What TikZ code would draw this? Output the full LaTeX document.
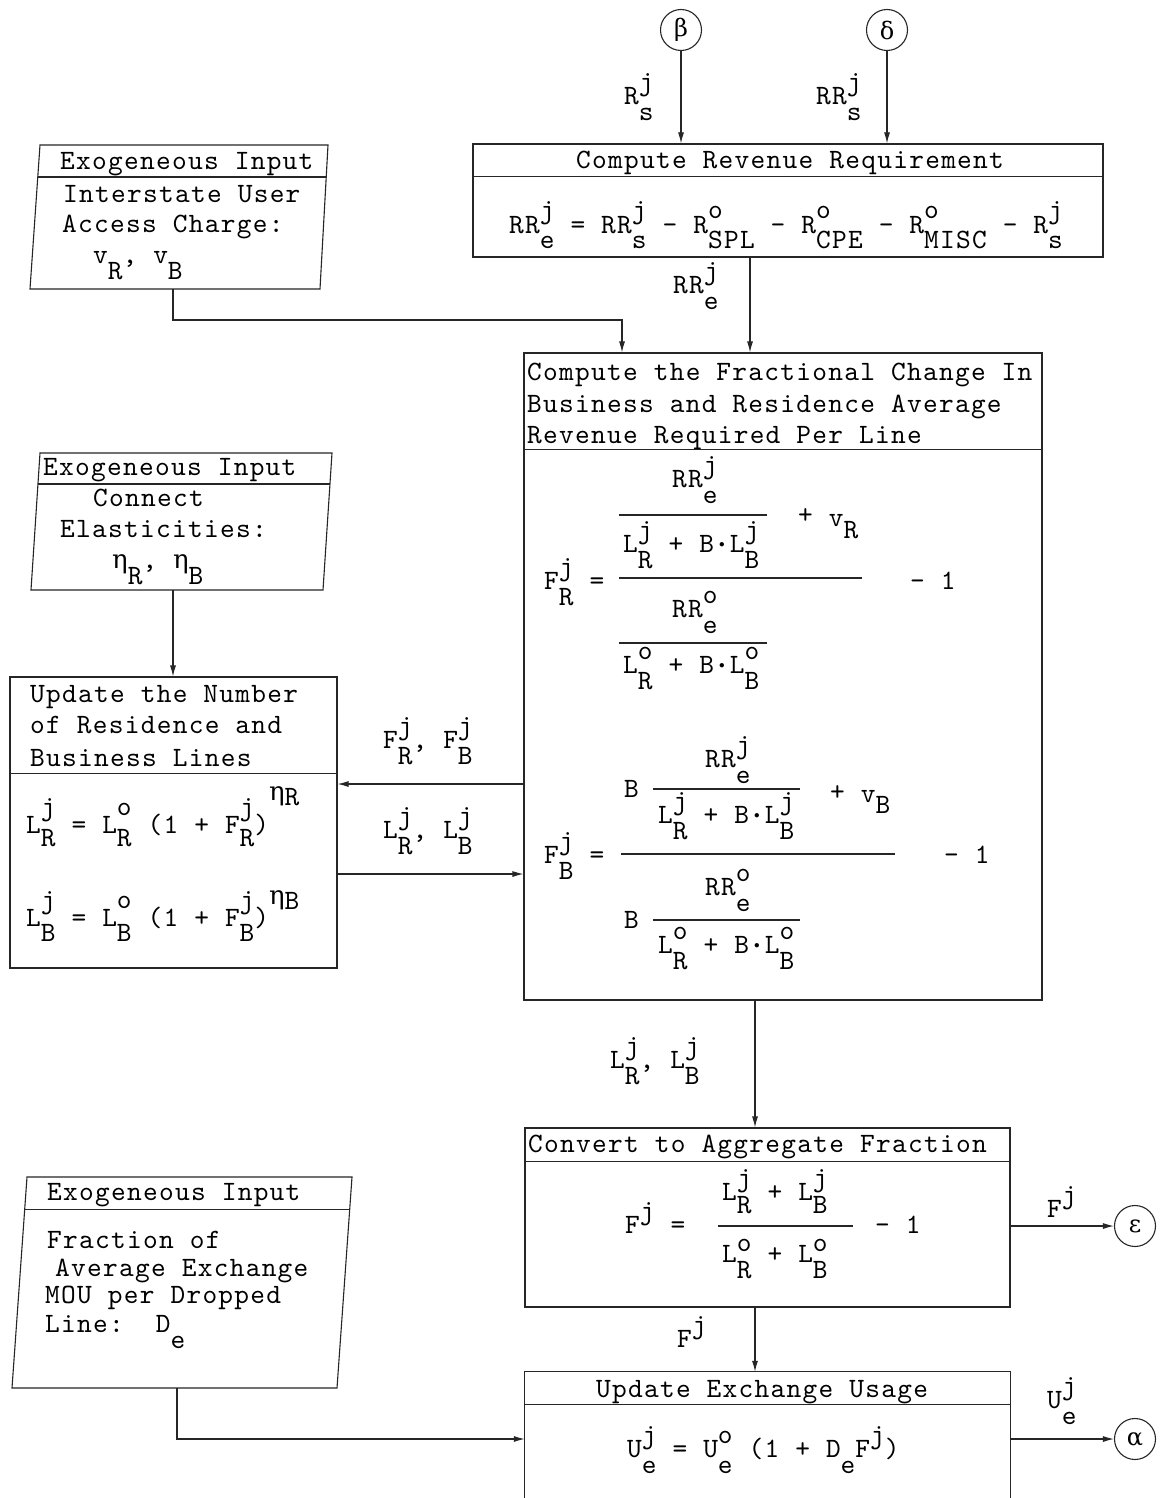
\documentclass[tikz,border=0pt]{standalone}
\usepackage{fontspec}
\usepackage{graphicx}
\newfontfamily\tw{lmmono10-regular.otf}[LetterSpace=4.6]
\newfontfamily\grk{DejaVu Serif}
\usetikzlibrary{arrows.meta,calc}
\newdimen\dnoff \dnoff=16pt
\newdimen\upoff \upoff=14pt
\newcommand\dn[1]{\raisebox{-\dnoff}{#1}}
\newcommand\up[1]{\raisebox{\upoff}{#1}}
\newcommand\ud[2]{\raisebox{-\dnoff}{\rlap{\raisebox{\dimexpr\dnoff+\upoff\relax}{#1}}#2}}
\newcommand\bdot{\makebox[16pt]{\raisebox{5pt}{\scalebox{0.45}{$\bullet$}}}}
\newcommand\eeta{{\grk\fontsize{26}{30}\selectfont η}}
\tikzset{
 ln/.style={line width=1.1pt, draw=black!85},
 arr/.style={ln, -{Latex[length=11pt,width=6pt]}},
 box/.style={ln, rectangle, inner sep=0pt},
 txt/.style={font=\tw\fontsize{28}{32}\selectfont, inner sep=0pt, anchor=base west},
 ctxt/.style={txt, anchor=base},
 circ/.style={ln, circle, minimum size=41pt, inner sep=0pt, font=\grk\fontsize{24}{28}\selectfont},
}
\begin{document}
\begin{tikzpicture}[x=1pt,y=-1pt]
\useasboundingbox (0,0) rectangle (1164,1498);
\fill[white] (0,0) rectangle (1164,1498);

% connector circles
\node[circ] (beta) at (681,30) {β};
\node[circ] (delta) at (887,30) {δ};
\node[circ] (eps) at (1135,1226) {ε};
\node[circ] (alpha) at (1135,1439) {α};

% process boxes
\node[box, minimum width=630pt, minimum height=113pt] (rev) at (788,200.5) {};
\draw[ln] ([yshift=-33pt]rev.north west) -- ([yshift=-33pt]rev.north east);
\node[box, minimum width=518pt, minimum height=647pt] (frac) at (783,676.5) {};
\draw[ln] ([yshift=-97pt]frac.north west) -- ([yshift=-97pt]frac.north east);
\node[box, minimum width=327pt, minimum height=291pt] (upd) at (173.5,822.5) {};
\draw[ln] ([yshift=-97pt]upd.north west) -- ([yshift=-97pt]upd.north east);
\node[box, minimum width=485pt, minimum height=179pt] (conv) at (767.5,1217.5) {};
\draw[ln] ([yshift=-34pt]conv.north west) -- ([yshift=-34pt]conv.north east);
\node[minimum width=485pt, minimum height=134pt, inner sep=0pt] (use) at (767.5,1439) {};
\draw[ln] (use.south west) -- (use.north west) -- (use.north east) -- (use.south east);
\draw[ln] ([yshift=-33pt]use.north west) -- ([yshift=-33pt]use.north east);

% input parallelograms
\coordinate (e1tl) at (40,145); \coordinate (e1tr) at (328,145);
\coordinate (e1br) at (320,289); \coordinate (e1bl) at (30,289);
\draw[ln] (e1tl) -- (e1tr) -- (e1br) -- (e1bl) -- cycle;
\draw[ln] ($(e1tl)!0.222!(e1bl)$) -- ($(e1tr)!0.222!(e1br)$);
\coordinate (e2tl) at (40,453); \coordinate (e2tr) at (332,453);
\coordinate (e2br) at (323,590); \coordinate (e2bl) at (31,590);
\draw[ln] (e2tl) -- (e2tr) -- (e2br) -- (e2bl) -- cycle;
\draw[ln] ($(e2tl)!0.226!(e2bl)$) -- ($(e2tr)!0.226!(e2br)$);
\coordinate (e3tl) at (27,1177); \coordinate (e3tr) at (352,1177);
\coordinate (e3br) at (337,1388); \coordinate (e3bl) at (12,1388);
\draw[ln] (e3tl) -- (e3tr) -- (e3br) -- (e3bl) -- cycle;
\draw[ln] ($(e3tl)!0.156!(e3bl)$) -- ($(e3tr)!0.156!(e3br)$);

% connectors
\draw[arr] (beta) -- (beta |- rev.north);
\draw[arr] (delta) -- (delta |- rev.north);
\coordinate (xa) at (750,0);
\draw[arr] (rev.south -| xa) -- (frac.north -| xa);
\coordinate (e1out) at (173,289); \coordinate (e1turn) at (622,320);
\draw[arr] (e1out) |- (e1turn) -- (e1turn |- frac.north);
\coordinate (e2out) at (173,590);
\draw[arr] (e2out) -- (e2out |- upd.north);
\coordinate (ya) at (0,784); \coordinate (yb) at (0,874);
\draw[arr] (frac.west |- ya) -- (upd.east |- ya);
\draw[arr] (upd.east |- yb) -- (frac.west |- yb);
\coordinate (xb) at (755,0);
\draw[arr] (frac.south -| xb) -- (conv.north -| xb);
\draw[arr] (conv.south -| xb) -- (use.north -| xb);
\draw[arr] (conv.east |- eps) -- (eps);
\draw[arr] (use.east |- alpha) -- (alpha);
\coordinate (e3out) at (177,1388);
\draw[arr] (e3out) |- (use.west);

% labels on connectors
\node[txt] (lrs) at (624,105) {R\ud{j}{s}};
\node[txt] (lrrs) at (816,105) {RR\ud{j}{s}};
\node[txt] (lrre) at (673,293) {RR\ud{j}{e}};
\node[txt] (lf) at (383,748) {F\ud{j}{R}, F\ud{j}{B}};
\node[txt] (ll) at (383,838) {L\ud{j}{R}, L\ud{j}{B}};
\node[txt] (lfc) at (610,1068) {L\ud{j}{R}, L\ud{j}{B}};
\node[txt] (lfj) at (1047,1217) {F\up{j}};
\node[txt] (lfj2) at (677,1347) {F\up{j}};
\node[txt] (lue) at (1047,1408) {U\ud{j}{e}};

% exogeneous input 1
\node[txt] (e1h) at (60,170) {Exogeneous Input};
\node[txt] (e1a) at (63,202) {Interstate User};
\node[txt] (e1b) at (62,232) {Access Charge:};
\node[txt] (e1c) at (93,263) {v\dn{R}, v\dn{B}};

% revenue requirement
\node[ctxt] (revh) at (790,168) {Compute Revenue Requirement};
\node[txt] (reveq) at (509,233) {RR\ud{j}{e} = RR\ud{j}{s} - R\ud{o}{SPL} - R\ud{o}{CPE} - R\ud{o}{MISC} - R\ud{j}{s}};

% fractional change
\node[txt] (fh1) at (527,380) {Compute the Fractional Change In};
\node[txt] (fh2) at (527,412) {Business and Residence Average};
\node[txt] (fh3) at (527,443) {Revenue Required Per Line};
% F_R
\node[txt] (frl) at (544,589) {F\ud{j}{R} =};
\node[txt] (frn1) at (672,487) {RR\ud{j}{e}};
\draw[ln] (619,515) -- (767,515);
\node[txt] (frd1) at (623,552) {L\ud{j}{R} + B\bdot L\ud{j}{B}};
\node[txt] (frv) at (798,523) {+ \raisebox{-3pt}{v}\raisebox{-15pt}{R}};
\draw[ln] (619,578) -- (862,578);
\node[txt] (frm) at (910,589) {- 1};
\node[txt] (frn2) at (672,617) {RR\ud{o}{e}};
\draw[ln] (619,643) -- (767,643);
\node[txt] (frd2) at (623,673) {L\ud{o}{R} + B\bdot L\ud{o}{B}};
% F_B
\node[txt] (fbl) at (544,863) {F\ud{j}{B} =};
\node[txt] (fbn1) at (705,767) {RR\ud{j}{e}};
\node[txt] (fbb1) at (624,797) {B};
\draw[ln] (653,789) -- (800,789);
\node[txt] (fbv) at (830,800) {+ \raisebox{-2pt}{v}\raisebox{-13pt}{B}};
\node[txt] (fbd1) at (658,823) {L\ud{j}{R} + B\bdot L\ud{j}{B}};
\draw[ln] (621,854) -- (895,854);
\node[txt] (fbm) at (944,863) {- 1};
\node[txt] (fbn2) at (705,895) {RR\ud{o}{e}};
\node[txt] (fbb2) at (624,928) {B};
\draw[ln] (653,920) -- (800,920);
\node[txt] (fbd2) at (658,953) {L\ud{o}{R} + B\bdot L\ud{o}{B}};

% exogeneous input 2
\node[txt] (e2h) at (43,475) {Exogeneous Input};
\node[txt] (e2a) at (93,506) {Connect};
\node[txt] (e2b) at (60,537) {Elasticities:};
\node[txt] (e2c) at (112,568) {\eeta\dn{R}, \eeta\dn{B}};

% update lines
\node[txt] (uh1) at (30,702) {Update the Number};
\node[txt] (uh2) at (30,733) {of Residence and};
\node[txt] (uh3) at (30,766) {Business Lines};
\node[txt] (ueq1) at (26,833) {\dnoff=13pt\upoff=18pt L\ud{j}{R} = L\ud{o}{R} (1 + F\ud{j}{R})\raisebox{33pt}{\eeta\raisebox{-5pt}{R}}};
\node[txt] (ueq2) at (26,926) {\dnoff=15pt\upoff=18pt L\ud{j}{B} = L\ud{o}{B} (1 + F\ud{j}{B})\raisebox{22pt}{\eeta\raisebox{-5pt}{B}}};

% convert
\node[txt] (ch) at (528,1152) {Convert to Aggregate Fraction};
\node[txt] (ceq) at (625,1233) {F\up{j} =};
\node[txt] (cnum) at (722,1200) {\dnoff=13pt L\ud{j}{R} + L\ud{j}{B}};
\draw[ln] (718,1226) -- (853,1226);
\node[txt] (cden) at (722,1262) {\upoff=11pt L\ud{o}{R} + L\ud{o}{B}};
\node[txt] (cm1) at (875,1233) {- 1};

% update usage
\node[ctxt] (uuh) at (762,1397) {Update Exchange Usage};
\node[txt] (ueq) at (627,1457) {U\ud{j}{e} = U\ud{o}{e} (1 + D\dn{e}F\up{j})};

% exogeneous input 3
\node[txt] (e3h) at (47,1200) {Exogeneous Input};
\node[txt] (e3a) at (47,1248) {Fraction of};
\node[txt] (e3b) at (55,1276) {Average Exchange};
\node[txt] (e3c) at (45,1303) {MOU per Dropped};
\node[txt] (e3d) at (45,1332) {Line:\ \ D\dn{e}};
\end{tikzpicture}
\end{document}
